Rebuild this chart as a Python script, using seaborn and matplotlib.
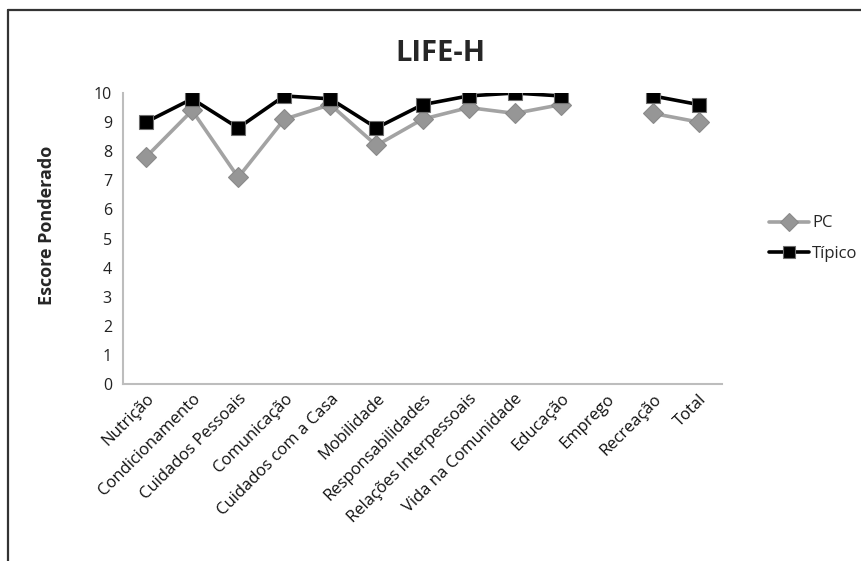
import numpy as np
import pandas as pd
import matplotlib
matplotlib.use("Agg")
import matplotlib.pyplot as plt
from matplotlib.lines import Line2D
import seaborn as sns

categories = ["Nutrição", "Condicionamento", "Cuidados Pessoais", "Comunicação",
              "Cuidados com a Casa", "Mobilidade", "Responsabilidades",
              "Relações Interpessoais", "Vida na Comunidade", "Educação",
              "Emprego", "Recreação", "Total"]
pc_values = [7.8, 9.4, 7.1, 9.1, 9.6, 8.2, 9.1, 9.5, 9.3, 9.6, np.nan, 9.3, 9.0]
tipico_values = [9.0, 9.8, 8.8, 9.9, 9.8, 8.8, 9.6, 9.9, 10.0, 9.9, np.nan, 9.9, 9.6]
series_names = ["PC", "Típico"]
y_ticks = list(range(0, 11))

sns.set_theme(style="white")
plt.rcParams["font.family"] = ["Open Sans", "DejaVu Sans"]

# long-form table; a gap (missing value) starts a new line segment
rows = []
for name, vals in zip(series_names, [pc_values, tipico_values]):
    seg = 0
    for i, v in enumerate(vals):
        if np.isnan(v):
            seg += 1
            continue
        rows.append({"pos": i, "score": v, "series": name, "segment": seg})
df = pd.DataFrame(rows)

colors = {"PC": "#A3A3A3", "Típico": "#000000"}
markers = {"PC": "D", "Típico": "s"}

fig = plt.figure(figsize=(8.62, 5.61), dpi=100)
ax = fig.add_axes([0.1427, 0.3155, 0.6949, 0.5187])

for name in series_names:
    sub = df[df["series"] == name]
    sns.lineplot(data=sub, x="pos", y="score", units="segment", estimator=None,
                 color=colors[name], marker=markers[name], linewidth=2.6,
                 markersize=10 if name == "PC" else 10.5,
                 markerfacecolor="#969696" if name == "PC" else "#000000",
                 markeredgecolor="#8A8A8A" if name == "PC" else "#6E6E6E",
                 markeredgewidth=0.8, ax=ax, legend=False,
                 zorder=3 if name == "Típico" else 2)

ax.set_xlim(-0.5, len(categories) - 0.5)
ax.set_ylim(0, 10)
ax.set_yticks(y_ticks)
ax.set_yticklabels([str(t) for t in y_ticks], fontsize=11.5, color="#222222")
ax.set_xticks(range(len(categories)))
ax.set_xticklabels(categories, rotation=45, ha="right", rotation_mode="anchor",
                   fontsize=12, color="#111111")
ax.tick_params(axis="both", length=0)
ax.tick_params(axis="y", pad=8)
ax.tick_params(axis="x", pad=5)
ax.set_xlabel("")
ax.set_ylabel("Escore Ponderado", fontsize=13, fontweight="bold")
ax.yaxis.set_label_coords(-0.112, 0.545)

for side in ["top", "right"]:
    ax.spines[side].set_visible(False)
for side in ["left", "bottom"]:
    ax.spines[side].set_color("#BDBDBD")
    ax.spines[side].set_linewidth(1.5)

fig.text(0.511, 0.905, "LIFE-H", ha="center", va="center", fontsize=21, fontweight="bold")

handles = [
    Line2D([], [], color=colors["PC"], marker="D", markersize=9, linewidth=2.6,
           markerfacecolor="#969696", markeredgecolor="#8A8A8A", markeredgewidth=0.8),
    Line2D([], [], color="black", marker="s", markersize=9, linewidth=2.6,
           markerfacecolor="black", markeredgecolor="#6E6E6E", markeredgewidth=0.8),
]
fig.legend(handles, series_names, loc="upper left", bbox_to_anchor=(0.884, 0.628),
           frameon=False, fontsize=12, handlelength=2.4, handletextpad=0.2,
           labelspacing=0.85, borderaxespad=0)

# chart border
fig.add_artist(Line2D([0.0093, 1.0], [0.982, 0.982], transform=fig.transFigure,
                      color="#333333", linewidth=1.6))
fig.add_artist(Line2D([0.0093, 0.0093], [0.0, 0.982], transform=fig.transFigure,
                      color="#333333", linewidth=1.6))

fig.savefig("out.png", dpi=100)
